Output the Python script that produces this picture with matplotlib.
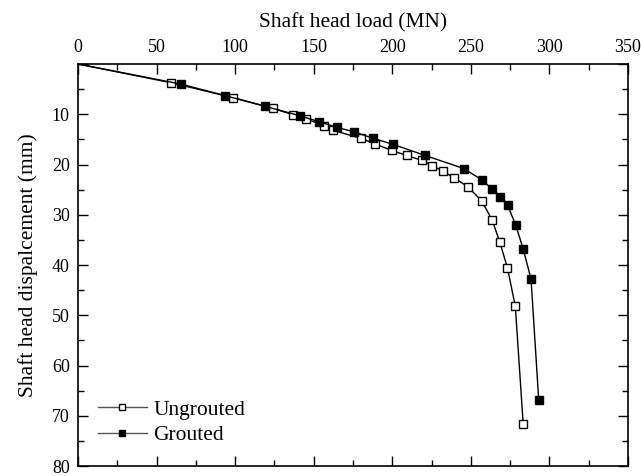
import numpy as np
import matplotlib.pyplot as plt

# Shaft head load (MN) vs displacement (mm)
ungrouted_load = [0, 58.9, 98.7, 123.8, 136.9, 144.9, 156.8, 162.4, 180.2, 189.0,
                  199.6, 209.3, 219.0, 225.3, 232.0, 239.0, 248.0, 256.8, 263.5,
                  268.4, 273.3, 278.3, 283.3]
ungrouted_disp = [0, 3.7, 6.7, 8.8, 10.1, 10.9, 12.3, 13.2, 14.8, 15.9,
                  17.2, 18.2, 19.2, 20.2, 21.3, 22.6, 24.4, 27.2, 31.0,
                  35.4, 40.6, 48.2, 71.6]

grouted_load = [0, 65.6, 93.7, 119.0, 141.2, 153.6, 164.8, 175.7, 188.0, 200.6,
                220.9, 245.5, 257.2, 263.3, 268.4, 273.4, 278.5, 283.3, 288.3, 293.2]
grouted_disp = [0, 4.0, 6.3, 8.4, 10.3, 11.5, 12.6, 13.5, 14.8, 16.0,
                18.2, 20.8, 23.1, 24.8, 26.5, 28.1, 32.0, 36.8, 42.8, 66.9]

plt.rcParams['font.family'] = ['Liberation Serif', 'DejaVu Serif']

fig = plt.figure(figsize=(6.41, 4.76), dpi=100)
ax = fig.add_axes([0.1217, 0.0210, 0.8580, 0.8445])

ax.plot(ungrouted_load, ungrouted_disp, color="black", lw=1, marker="s",
        markersize=6, markerfacecolor="white", markeredgecolor="black",
        markeredgewidth=1, markevery=range(1, len(ungrouted_load)), label="Ungrouted")
ax.plot(grouted_load, grouted_disp, color="black", lw=1, marker="s",
        markersize=6, markerfacecolor="black", markeredgecolor="black",
        markevery=range(1, len(grouted_load)), label="Grouted")

ax.set_xlim(0, 350)
ax.set_ylim(80, 0)
ax.set_xticks(np.arange(0, 351, 50))
ax.set_xticks(np.arange(25, 350, 50), minor=True)
ax.set_yticks(np.arange(0, 81, 10))
ax.set_yticks(np.arange(5, 80, 10), minor=True)
ax.set_yticklabels(["", "10", "20", "30", "40", "50", "60", "70", "80"])

ax.xaxis.tick_top()
ax.xaxis.set_label_position("top")
ax.tick_params(which="both", direction="in", top=True, bottom=True, left=True, right=True,
               labeltop=True, labelbottom=False, labelsize=13, width=1)
ax.tick_params(which="major", length=7, pad=6)
ax.tick_params(which="minor", length=4)
for s in ax.spines.values():
    s.set_linewidth(1.2)

ax.set_xlabel("Shaft head load (MN)", fontsize=15.5, labelpad=8)
ax.set_ylabel("Shaft head dispalcement (mm)", fontsize=15.5, labelpad=10)

leg = ax.legend(loc="lower left", frameon=False, fontsize=15.5, handlelength=2.3,
                borderaxespad=0, bbox_to_anchor=(0.02, 0.03), labelspacing=0.25,
                handletextpad=0.3, markerscale=0.7)
for h in leg.legend_handles:
    h.set_color("#555555")
    h.set_markeredgecolor("black")

fig.savefig("out.png", dpi=100)
